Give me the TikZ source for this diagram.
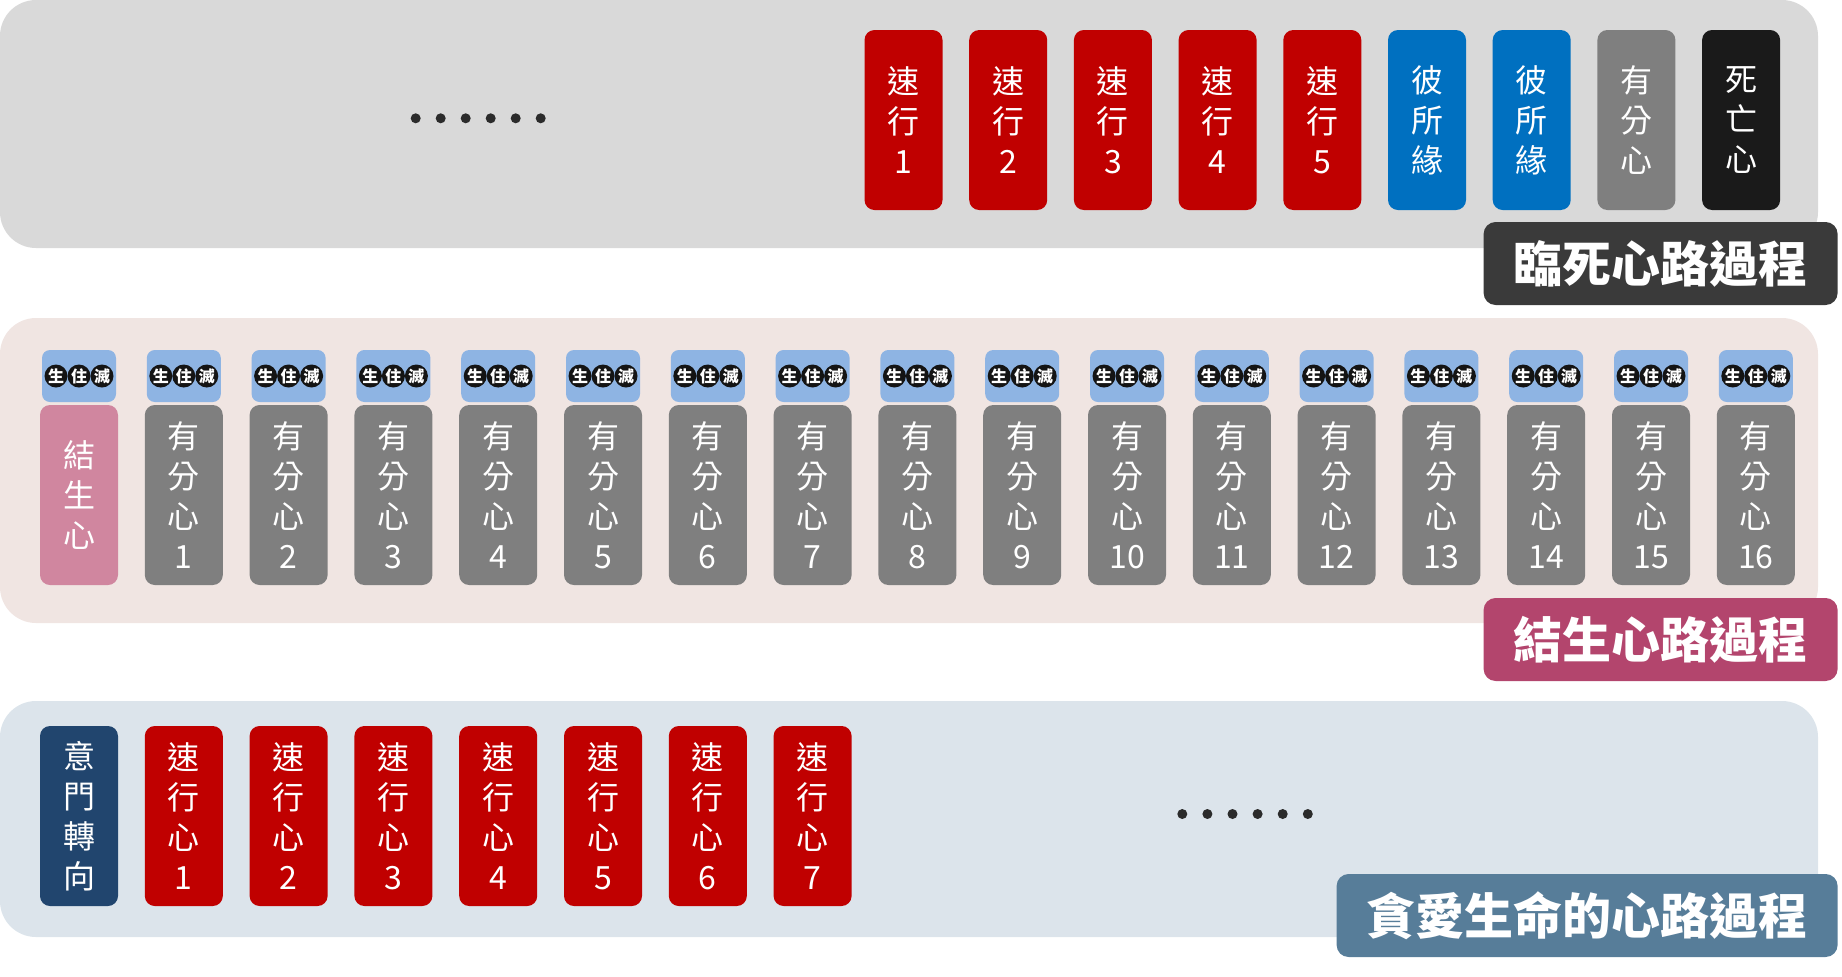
\documentclass[tikz,border=0pt]{standalone}
\usepackage{fontspec}
\usepackage{tikz}
\usepackage{xcolor}
\newfontfamily\cjk{Noto Sans CJK TC}

\definecolor{topgray}{HTML}{D9D9D9}
\definecolor{midpink}{HTML}{F0E5E2}
\definecolor{lowblue}{HTML}{DCE4EB}
\definecolor{cellred}{HTML}{C00000}
\definecolor{cellblue}{HTML}{0070C0}
\definecolor{cellgray}{HTML}{7F7F7F}
\definecolor{cellblack}{HTML}{1A1A1A}
\definecolor{cellpink}{HTML}{D0869F}
\definecolor{cellnavy}{HTML}{21456E}
\definecolor{badgeblue}{HTML}{8EB4E3}
\definecolor{tagdark}{HTML}{3A3A3A}
\definecolor{tagrose}{HTML}{B3456D}
\definecolor{tagsteel}{HTML}{577D99}
\definecolor{dotgray}{HTML}{2B2B2B}

\begin{document}
\begin{tikzpicture}[
    x=0.5pt, y=-0.5pt,
    cell/.style={rounded corners=5pt, minimum width=39pt, minimum height=90pt, inner sep=0pt,
        text=white, align=center, font=\cjk\fontsize{16}{20}\selectfont},
    badge/.style={fill=badgeblue, rounded corners=4pt, minimum width=37pt, minimum height=26pt, inner sep=0pt},
    phase/.style={circle, fill=black!92, text=white, minimum size=11.5pt, inner sep=0pt,
        font=\cjk\bfseries\fontsize{8}{8}\selectfont},
    tag/.style={rounded corners=6pt, text=white, anchor=east, minimum height=41.5pt,
        inner xsep=15pt, inner ysep=0pt, font=\cjk\bfseries\fontsize{24.5}{26}\selectfont},
    dot/.style={circle, fill=dotgray, minimum size=5pt, inner sep=0pt},
]
\useasboundingbox (0,0) rectangle (1842,976);

% === Khung nền ===
\fill[topgray, rounded corners=18pt] (0,0) rectangle (1818,248);
\fill[midpink, rounded corners=18pt] (0,318) rectangle (1818,623);
\fill[lowblue, rounded corners=18pt] (0,701) rectangle (1818,937);

% =====================================================
% Hàng trên: 臨死心路過程
% =====================================================
\foreach \k in {0,...,5} {
    \node[dot] (TD\k) at ({415.7+25*\k},118.3) {};
}
\foreach \i in {1,...,5} {
    \node[cell, fill=cellred] (T\i) at ({903.5+104.7*(\i-1)},120) {速\\行\\\i};
}
\node[cell, fill=cellblue] (T6) at ({903.5+104.7*5},120) {彼\\所\\緣};
\node[cell, fill=cellblue] (T7) at ({903.5+104.7*6},120) {彼\\所\\緣};
\node[cell, fill=cellgray] (T8) at ({903.5+104.7*7},120) {有\\分\\心};
\node[cell, fill=cellblack] (T9) at ({903.5+104.7*8},120) {死\\亡\\心};

\node[tag, fill=tagdark] (TL) at (1838,263.5) {臨死心路過程};

% =====================================================
% Hàng giữa: 結生心路過程
% =====================================================
\node[cell, fill=cellpink] (M0) at (79,495) {結\\生\\心};
\foreach \i in {1,...,16} {
    \node[cell, fill=cellgray] (M\i) at ({79+104.8*\i},495) {有\\分\\心\\\i};
}

% --- 生住滅
\foreach \i in {0,...,16} {
    \node[badge] (S\i) at ({79+104.8*\i},376) {};
    \node[phase, xshift=-11.5pt] (S\i a) at (S\i.center) {生};
    \node[phase] (S\i b) at (S\i.center) {住};
    \node[phase, xshift=11.5pt] (S\i c) at (S\i.center) {滅};
}

\node[tag, fill=tagrose] (ML) at (1838,639.5) {結生心路過程};

% =====================================================
% Hàng dưới: 貪愛生命的心路過程
% =====================================================
\node[cell, fill=cellnavy] (B0) at (79,816) {意\\門\\轉\\向};
\foreach \i in {1,...,7} {
    \node[cell, fill=cellred] (B\i) at ({79+104.8*\i},816) {速\\行\\心\\\i};
}
\foreach \k in {0,...,5} {
    \node[dot] (BD\k) at ({1182.3+25.1*\k},814) {};
}

\node[tag, fill=tagsteel] (BL) at (1838,915.5) {貪愛生命的心路過程};

\end{tikzpicture}
\end{document}
